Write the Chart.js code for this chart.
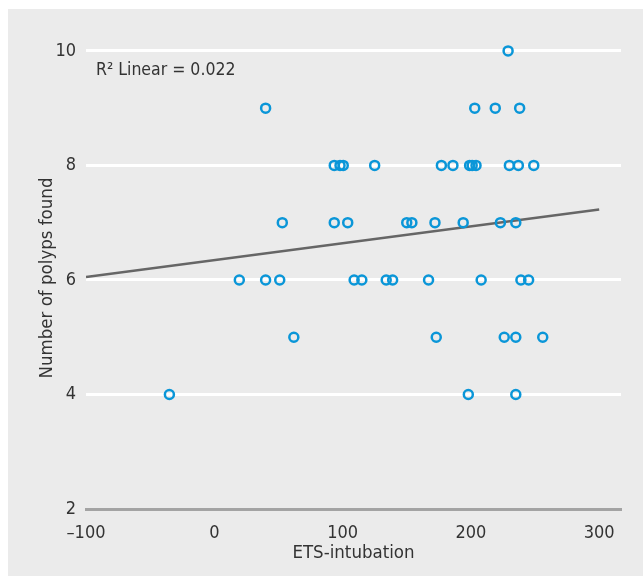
<!DOCTYPE html>
<html>
<head>
<meta charset="utf-8">
<script src="https://cdn.jsdelivr.net/npm/chart.js@4.4.1/dist/chart.umd.min.js"></script>
<style>
  html, body { margin: 0; padding: 0; background: #fff; }
  #wrap { width: 643px; height: 576px; }
</style>
</head>
<body>
<div id="wrap"><canvas id="polypChart" width="643" height="576"></canvas></div>
<script>
// ETS-intubation (x) vs number of polyps found (y)
const etsX = [
  229,
  40, 203, 219, 238,
  93.5, 98, 100.5, 125, 177, 186, 199, 201, 204, 230, 237, 249,
  53, 93.5, 104, 150, 154, 172, 194, 223, 235,
  19.5, 40, 51, 109, 115, 134, 139, 167, 208, 239, 245,
  62, 173, 226, 235, 256,
  -35, 198, 235
];
const polypsY = [
  10,
  9, 9, 9, 9,
  8, 8, 8, 8, 8, 8, 8, 8, 8, 8, 8, 8,
  7, 7, 7, 7, 7, 7, 7, 7, 7,
  6, 6, 6, 6, 6, 6, 6, 6, 6, 6, 6,
  5, 5, 5, 5, 5,
  4, 4, 4
];
// linear fit line endpoints
const fitX = [-100, 300];
const fitY = [6.05, 7.23];

const xTicks = [-100, 0, 100, 200, 300];
const yTicks = [2, 4, 6, 8, 10];
const r2Label = "R\u00b2 Linear = 0.022";
const yTitle = "Number of polyps found";

const FONT = "'Liberation Sans Narrow', 'DejaVu Sans Condensed', sans-serif";
const TEXT = "#333333";

const panelBg = {
  id: "panelBg",
  beforeDraw(chart) {
    const c = chart.ctx;
    c.save();
    c.fillStyle = "#ebebeb";
    c.fillRect(8, 9, chart.width - 8, chart.height - 9);
    c.restore();
  },
  afterDraw(chart) {
    const c = chart.ctx;
    c.save();
    c.fillStyle = TEXT;
    c.font = "17.5px " + FONT;
    c.textBaseline = "alphabetic";
    c.textAlign = "left";
    c.fillText(r2Label, chart.chartArea.left + 10, 75);
    // y title, centred a bit below the plot middle like the original
    c.font = "18.5px " + FONT;
    c.translate(47, 278);
    c.rotate(-Math.PI / 2);
    c.textAlign = "center";
    c.textBaseline = "middle";
    c.fillText(yTitle, 0, 0);
    c.restore();
  }
};

new Chart(document.getElementById("polypChart"), {
  type: "scatter",
  data: {
    datasets: [
      {
        label: "fit",
        type: "line",
        data: fitX.map((x, i) => ({ x: x, y: fitY[i] })),
        borderColor: "#666666",
        borderWidth: 2.5,
        pointRadius: 0,
        fill: false,
        order: 2
      },
      {
        label: "polyps",
        data: etsX.map((x, i) => ({ x: x, y: polypsY[i] })),
        pointRadius: 4.5,
        pointBorderWidth: 2.5,
        pointBorderColor: "#0a96d8",
        pointBackgroundColor: "rgba(0,0,0,0)",
        order: 1
      }
    ]
  },
  options: {
    responsive: false,
    animation: false,
    layout: { padding: { left: 0, right: 22, top: 28, bottom: 0 } },
    plugins: { legend: { display: false }, tooltip: { enabled: false } },
    scales: {
      x: {
        type: "linear",
        min: -100,
        max: 317,
        afterBuildTicks: (s) => { s.ticks = xTicks.map(v => ({ value: v })); },
        afterFit: (s) => { s.height = 67; },
        grid: { display: false },
        border: { display: true, color: "#a3a3a3", width: 3 },
        ticks: {
          color: TEXT,
          padding: 6,
          font: { family: FONT, size: 18 },
          callback: (v) => (v < 0 ? "\u2013" + Math.abs(v) : String(v))
        },
        title: {
          display: true,
          text: "ETS-intubation",
          color: TEXT,
          font: { family: FONT, size: 18.5 },
          padding: { top: 0, bottom: 12 }
        }
      },
      y: {
        min: 2,
        max: 10.4,
        afterBuildTicks: (s) => { s.ticks = yTicks.map(v => ({ value: v })); },
        afterFit: (s) => { s.width = 86; },
        grid: {
          color: "#ffffff",
          lineWidth: 3,
          drawTicks: false
        },
        border: { display: false },
        ticks: {
          color: TEXT,
          padding: 10,
          font: { family: FONT, size: 18 }
        }
      }
    }
  },
  plugins: [panelBg]
});
</script>
</body>
</html>
